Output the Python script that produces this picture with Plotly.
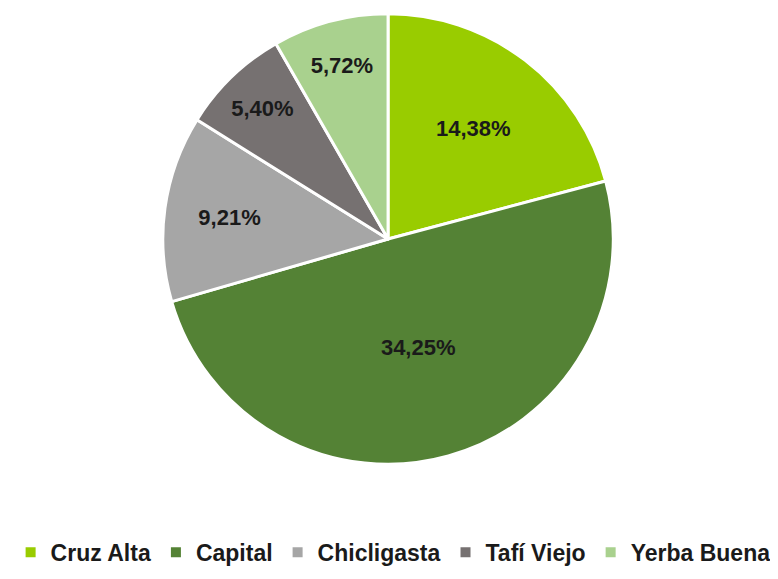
import plotly.graph_objects as go

# departamentos y participacion (%)
departamentos = ["Cruz Alta", "Capital", "Chicligasta", "Tafí Viejo", "Yerba Buena"]
porcentajes = [14.38, 34.25, 9.21, 5.40, 5.72]
etiquetas = ["14,38%", "34,25%", "9,21%", "5,40%", "5,72%"]
colores = ["#99CC00", "#548235", "#A6A6A6", "#767171", "#A9D18E"]

fuente = "Liberation Sans, Arial, sans-serif"

pie = go.Pie(labels=departamentos, values=porcentajes, text=etiquetas,
             textinfo="text", textposition="inside",
             insidetextorientation="horizontal",
             sort=False, direction="clockwise", rotation=0,
             marker=dict(colors=colores, line=dict(color="white", width=3)),
             textfont=dict(family=fuente, size=22, color="#1a1a1a", weight="bold"),
             domain=dict(x=[0, 0.977], y=[0.212, 0.99]))

layout = go.Layout(
    width=778, height=579,
    margin=dict(l=0, r=0, t=0, b=0),
    paper_bgcolor="white",
    showlegend=True,
    legend=dict(orientation="h", x=0.495, xanchor="center", y=0.06, yanchor="middle",
                font=dict(family=fuente, size=23, color="#1a1a1a", weight="bold"),
                itemsizing="constant"),
)
fig = go.Figure(data=[pie], layout=layout)
fig.write_html("out.html")
